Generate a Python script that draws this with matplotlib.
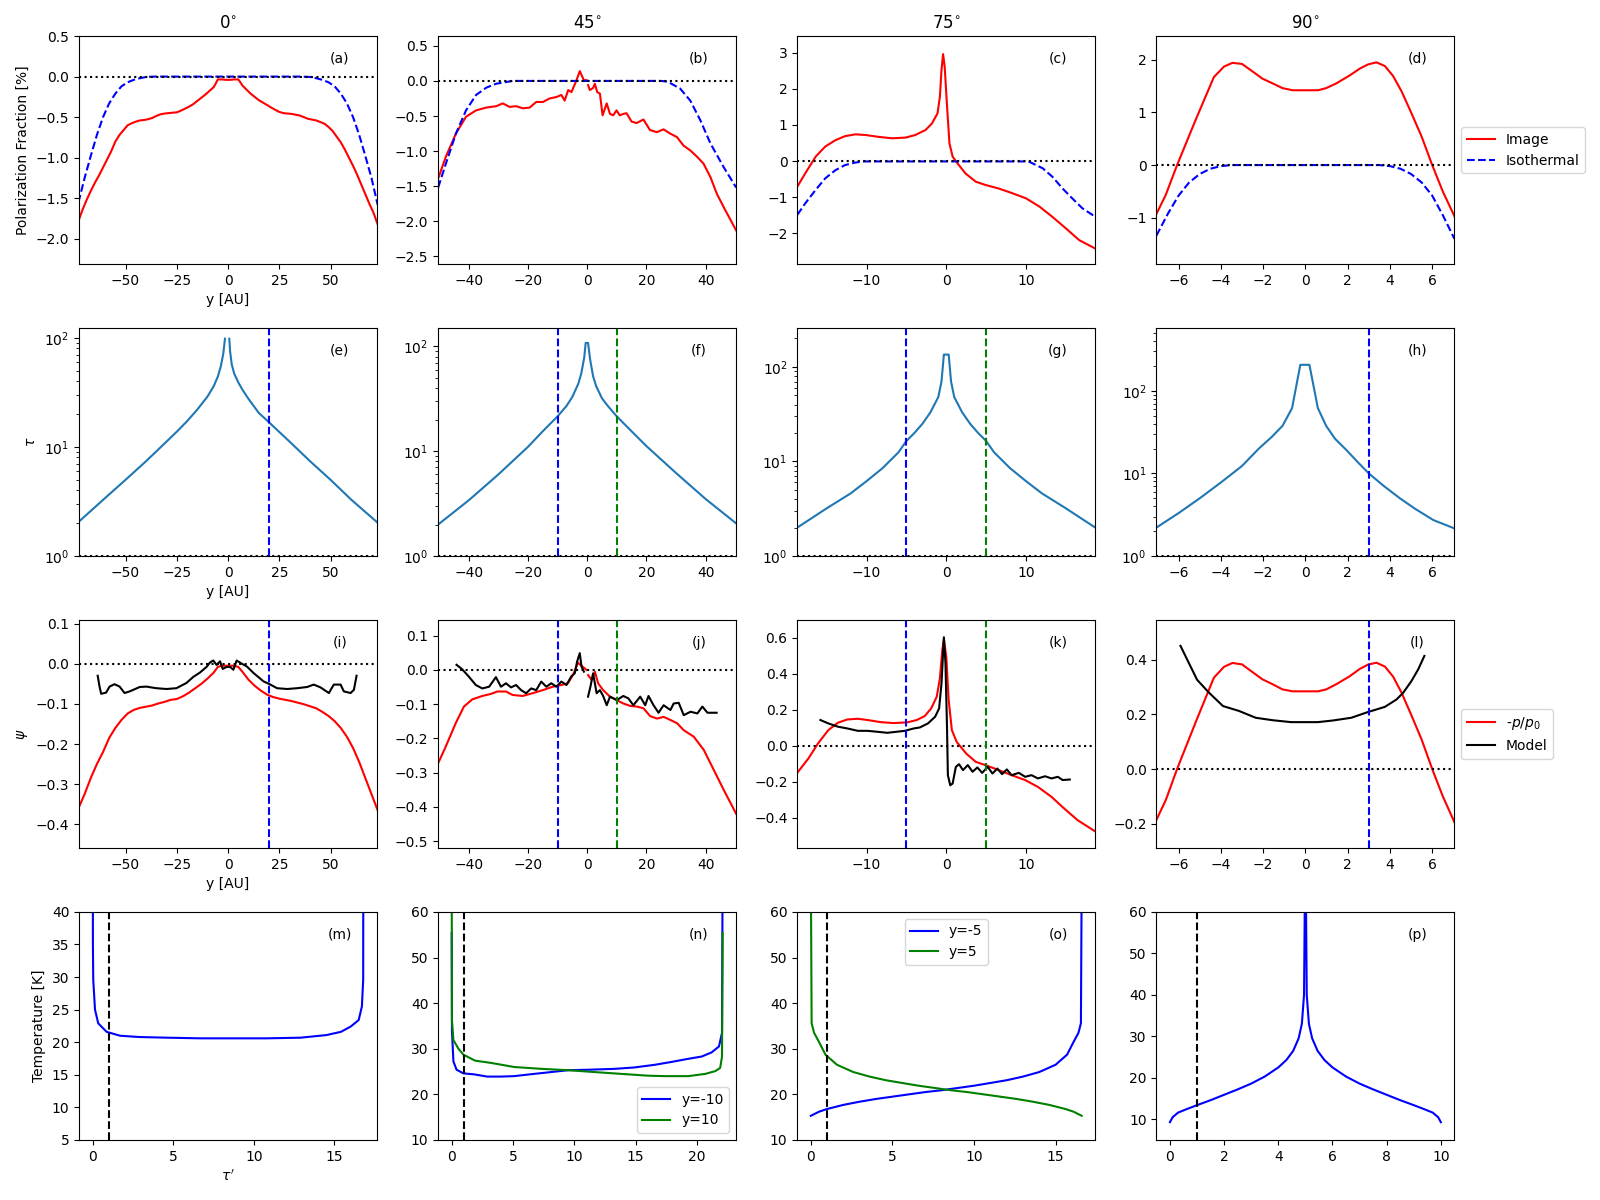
import numpy as np
import matplotlib
matplotlib.use('Agg')
import matplotlib.pyplot as plt
from matplotlib.ticker import MultipleLocator

nan = np.nan

titles = ['0$^{\\circ}$', '45$^{\\circ}$', '75$^{\\circ}$', '90$^{\\circ}$']
letters = 'abcdefghijklmnop'

# ---- row 1: polarization fraction ----
a_img_x = [-73, -71, -69, -67, -65, -63, -61, -59, -57, -55, -53, -51, -49, -47, -45, -43, -41, -39, -37,
           -35, -33, -31, -29, -27, -25, -23, -21, -19, -17, -15, -13, -11, -9, -7, -6, -5, -3, -1, 1, 3,
           5, 6, 7, 9, 11, 13, 15, 17, 19, 21, 23, 25, 27, 29, 31, 33, 35, 37, 39, 41, 43, 45, 47, 49,
           51, 53, 55, 57, 59, 61, 63, 65, 67, 69, 71, 73]
a_img_y = [-1.78, -1.64, -1.52, -1.41, -1.31, -1.22, -1.12, -1.02, -0.92, -0.80, -0.72, -0.66, -0.60, -0.575,
           -0.555, -0.54, -0.535, -0.525, -0.51, -0.485, -0.465, -0.455, -0.45, -0.445, -0.44, -0.42, -0.395,
           -0.37, -0.34, -0.30, -0.26, -0.22, -0.175, -0.13, -0.085, -0.035, -0.035, -0.04, -0.04, -0.035,
           -0.035, -0.07, -0.11, -0.16, -0.21, -0.25, -0.29, -0.32, -0.35, -0.38, -0.41, -0.435, -0.45, -0.455,
           -0.46, -0.47, -0.48, -0.50, -0.52, -0.53, -0.54, -0.56, -0.58, -0.62, -0.67, -0.74, -0.81, -0.90,
           -1.00, -1.10, -1.21, -1.33, -1.45, -1.57, -1.68, -1.82]
a_iso_x = [-73, -70, -67, -64, -61, -58, -55, -52, -49, -46, -43, -40, -36,
           36, 40, 43, 46, 49, 52, 55, 58, 61, 64, 67, 70, 73]
a_iso_y = [-1.55, -1.25, -0.98, -0.72, -0.50, -0.33, -0.21, -0.12, -0.07, -0.04, -0.02, -0.005, 0.0,
           0.0, -0.005, -0.02, -0.04, -0.07, -0.12, -0.21, -0.33, -0.50, -0.72, -0.98, -1.25, -1.58]

b_img_x = [-50.3, -47.7, -44.3, -40.9, -37.5, -34.1, -30.7, -28.5, -26.2, -24, -21.7, -19.4, -17.2, -14.9,
           -12.7, -10.4, -8.7, -7.6, -6.4, -5.3, -3.6, -2.5, -1.1, -0.2, nan, 0.3, 0.9, 2.0, 2.6, 3.4, 4.3,
           5.2, 6.6, 7.7, 8.8, 9.9, 11, 12.2, 13.3, 15, 16.7, 19, 21.2, 23.5, 25.8, 28, 30.3, 32.5, 34.8,
           37.1, 39.3, 41.6, 43.8, 46.1, 50.3]
b_img_y = [-1.39, -1.08, -0.75, -0.51, -0.42, -0.38, -0.36, -0.32, -0.37, -0.36, -0.39, -0.38, -0.30, -0.30,
           -0.25, -0.23, -0.20, -0.28, -0.13, -0.16, 0.01, 0.14, 0.01, 0.01, nan, -0.06, -0.13, -0.10, -0.04,
           -0.16, -0.18, -0.49, -0.32, -0.47, -0.49, -0.42, -0.49, -0.47, -0.46, -0.58, -0.60, -0.55, -0.70,
           -0.73, -0.69, -0.75, -0.80, -0.92, -0.99, -1.08, -1.18, -1.37, -1.61, -1.80, -2.13]
b_iso_x = [-50.3, -47.7, -44.3, -40.9, -37.5, -34, -30.7, -27.3, -25, 25, 27, 28, 31.4, 34.8, 38.2, 41.6,
           46.1, 50.3]
b_iso_y = [-1.52, -1.18, -0.75, -0.42, -0.20, -0.095, -0.04, -0.015, 0.0, 0.0, -0.01, -0.03, -0.11, -0.28,
           -0.56, -0.89, -1.23, -1.52]

c_img_x = [-18.7, -17.7, -16.4, -15.2, -13.9, -12.7, -11.4, -10.1, -8.5, -6.8, -5.1, -3.9, -2.6, -1.8, -1.1,
           -0.8, -0.6, -0.4, -0.2, 0.1, 0.4, 0.8, 1.4, 2.4, 3.7, 4.9, 6.6, 8.3, 10, 11.7, 13.3, 15, 16.7, 18.7]
c_img_y = [-0.71, -0.34, 0.12, 0.40, 0.58, 0.69, 0.74, 0.72, 0.67, 0.63, 0.65, 0.72, 0.86, 1.04, 1.32, 1.78,
           2.52, 2.96, 2.61, 1.50, 0.49, 0.12, -0.06, -0.34, -0.57, -0.66, -0.76, -0.89, -1.03, -1.26, -1.54,
           -1.86, -2.19, -2.42]
c_iso_x = [-18.7, -17.7, -16.4, -15.2, -13.9, -12.7, -11.4, -10.3, 10.3, 10.8, 12.1, 13.3, 14.6, 15.8, 17.1,
           18.7]
c_iso_y = [-1.49, -1.17, -0.80, -0.48, -0.25, -0.11, -0.04, -0.01, -0.01, -0.06, -0.20, -0.43, -0.76, -1.03,
           -1.31, -1.54]

d_img_x = [-7.05, -6.6, -6.07, -5.2, -4.33, -3.85, -3.45, -3.0, -2.58, -2.03, -1.55, -1.08, -0.6, 0.6, 0.98,
           1.46, 2.09, 2.57, 2.96, 3.36, 3.76, 4.15, 4.55, 5.0, 5.5, 6.0, 6.5, 7.05]
d_img_y = [-0.93, -0.56, 0.0, 0.85, 1.67, 1.87, 1.94, 1.92, 1.80, 1.64, 1.55, 1.46, 1.42, 1.42, 1.46, 1.55,
           1.70, 1.83, 1.91, 1.95, 1.88, 1.69, 1.40, 1.00, 0.54, 0.0, -0.5, -0.97]
d_iso_x = [-7.05, -6.5, -6, -5.5, -5, -4.5, -4, -3.5, 3.5, 4, 4.5, 5, 5.5, 6, 6.5, 7.05]
d_iso_y = [-1.34, -0.92, -0.58, -0.33, -0.17, -0.07, -0.02, 0.0, 0.0, -0.02, -0.07, -0.17, -0.33, -0.58,
           -0.95, -1.40]

# ---- row 2: optical depth ----
e_x = [-73, -60, -50, -40, -30, -25, -20, -15, -10, -7, -5, -3.5, -2.3, -1.5, nan, 0.6, 1.0, 1.8, 3, 5, 7,
       10, 15, 20, 25, 30, 40, 50, 60, 73]
e_y = [2.05, 3.4, 5.0, 7.4, 11.2, 13.8, 17.2, 22, 29, 36, 44, 55, 72, 98, nan, 98, 75, 57, 47, 39, 33.5,
       27.5, 20.5, 16.8, 13.7, 11.2, 7.4, 5.0, 3.3, 2.02]
f_x = [-50.3, -40, -30, -20, -15, -10, -7, -5, -3, -2, -1, -0.5, 0.3, 1, 2, 3, 5, 7, 10, 15, 20, 30, 40, 50.3]
f_y = [2.0, 3.4, 6.0, 11.0, 15.5, 21.5, 27, 33, 44, 55, 78, 108, 108, 75, 52, 42, 32, 27, 21.5, 15.5, 11.2,
       6.2, 3.5, 2.05]
g_x = [-18.7, -15, -12, -10, -8, -6, -5, -4, -3, -2, -1, -0.6, -0.3, 0.3, 0.6, 1, 2, 3, 4, 5, 6, 8, 10, 12,
       15, 18.7]
g_y = [2.0, 3.2, 4.6, 6.2, 8.5, 12.5, 16.5, 20, 25, 33, 48, 70, 135, 135, 70, 48, 33, 25, 20, 16.5, 12.5,
       8.5, 6.2, 4.6, 3.2, 2.0]
h_x = [-7.05, -6, -5, -4, -3.45, -3, -2.2, -1.6, -1.08, -0.63, -0.24, 0.19, 0.59, 0.98, 1.4, 1.93, 2.5, 3.0,
       3.7, 4.47, 5.2, 6.05, 7.05]
h_y = [2.21, 3.31, 5.0, 7.76, 10, 12.3, 20, 27.5, 37.7, 61.7, 206, 206, 61.7, 37.7, 26.3, 19.3, 13.5, 10,
       7.08, 5.0, 3.72, 2.73, 2.16]

# ---- row 3: psi ----
i_p_x = [-73, -70, -67, -64, -61, -58, -55, -52, -49, -46, -43, -40, -37, -34, -31, -28, -25, -22, -19, -16,
         -13, -10, -7, -5, -3, 0, 3, 5, 7, 10, 13, 16, 19, 22, 25, 28, 31, 34, 37, 40, 43, 46, 49, 52, 55,
         58, 61, 64, 67, 70, 73]
i_p_y = [-0.36, -0.325, -0.285, -0.25, -0.22, -0.185, -0.16, -0.14, -0.124, -0.115, -0.11, -0.107, -0.104,
         -0.099, -0.095, -0.09, -0.088, -0.081, -0.072, -0.061, -0.05, -0.037, -0.022, -0.008, -0.005,
         -0.005, -0.005, -0.008, -0.02, -0.04, -0.055, -0.067, -0.077, -0.083, -0.087, -0.09, -0.093,
         -0.097, -0.101, -0.106, -0.111, -0.12, -0.13, -0.143, -0.16, -0.182, -0.21, -0.245, -0.285,
         -0.325, -0.365]
i_m_x = [-63.6, -62.7, -61.9, -59.5, -57.8, -55.4, -52.9, -50.5, -48, -43.1, -39.9, -35, -30, -25.2, -20.3,
         -17, -13.7, -10.5, -8.8, -7.2, -5.6, -3.9, -2.6, -0.7, 1, 2.6, 4.2, 6.7, 9.2, 12.4, 17.3, 20.3,
         23.9, 28.8, 33.7, 38.6, 41.8, 45.1, 49.2, 51.6, 54.9, 56.5, 59.8, 61.4, 62.7]
i_m_y = [-0.03, -0.057, -0.075, -0.072, -0.057, -0.051, -0.057, -0.073, -0.069, -0.058, -0.057, -0.061,
         -0.063, -0.061, -0.048, -0.033, -0.022, -0.008, 0.003, 0.008, -0.003, 0.006, -0.013, -0.008,
         -0.008, -0.015, 0.008, 0.0, -0.007, -0.023, -0.044, -0.051, -0.061, -0.063, -0.061, -0.058,
         -0.052, -0.059, -0.073, -0.052, -0.052, -0.069, -0.073, -0.065, -0.03]

j_p_x = [-50.6, -47.8, -44.4, -41.6, -38.8, -35.4, -32.5, -30.3, -27.4, -25.2, -21.8, -18.4, -15, -11.6,
         -8.7, -6.5, -4.8, -3.1, -1.9, -0.2, nan, 0.3, 1.5, 2.6, 3.7, 5.4, 7.7, 10, 12.2, 14.5, 16.8, 19,
         21.3, 23.6, 25.8, 28.1, 30.4, 32.6, 36, 39.4, 42.8, 46.2, 50.3]
j_p_y = [-0.278, -0.225, -0.156, -0.107, -0.086, -0.076, -0.07, -0.063, -0.063, -0.073, -0.076, -0.068,
         -0.059, -0.049, -0.044, -0.039, -0.015, 0.021, 0.012, 0.0, nan, -0.015, -0.029, -0.005, -0.039,
         -0.059, -0.078, -0.088, -0.098, -0.105, -0.107, -0.112, -0.135, -0.142, -0.137, -0.146, -0.156,
         -0.176, -0.195, -0.234, -0.293, -0.352, -0.42]
j_m_x = [-44.1, -42.2, -39.9, -37.6, -35.4, -33.1, -30.8, -29.1, -27.4, -25.7, -24, -22.3, -20.6, -18.9,
         -17.2, -15.5, -13.8, -12.1, -10.4, -8.7, -7, -5.3, -4.2, -3.4, -2.5, -1.9, -1.1, nan, 0.3, 1.1,
         2.0, 2.6, 3.2, 4.3, 5.4, 6.6, 7.7, 10, 12.2, 13.9, 15.6, 17.9, 19.6, 20.7, 22.4, 24.1, 25.8,
         28.1, 29.2, 30.9, 32.6, 34.9, 37.2, 38.9, 40.6, 43.7]
j_m_y = [0.015, 0.002, -0.02, -0.044, -0.054, -0.049, -0.021, -0.049, -0.039, -0.051, -0.044, -0.059,
         -0.068, -0.054, -0.059, -0.034, -0.049, -0.039, -0.049, -0.034, -0.044, -0.018, -0.01, 0.024,
         0.049, 0.01, -0.005, nan, -0.078, -0.049, -0.01, -0.039, -0.068, -0.059, -0.076, -0.103, -0.078,
         -0.088, -0.076, -0.083, -0.103, -0.078, -0.103, -0.076, -0.103, -0.125, -0.103, -0.117, -0.098,
         -0.096, -0.132, -0.122, -0.127, -0.107, -0.125, -0.125]

k_p_x = [-18.7, -17.3, -16.1, -14.8, -13.6, -12.4, -11.1, -9.9, -8.2, -6.6, -4.9, -3.7, -2.7, -1.9, -1.2,
         -0.8, -0.5, -0.3, 0.0, 0.3, 0.7, 1.3, 2.5, 3.7, 4.9, 6.6, 8.2, 9.9, 11.5, 13.2, 14.8, 16.5, 18.7]
k_p_y = [-0.15, -0.07, 0.013, 0.087, 0.128, 0.146, 0.15, 0.143, 0.131, 0.126, 0.13, 0.143, 0.165, 0.207,
         0.272, 0.374, 0.531, 0.59, 0.494, 0.254, 0.087, 0.022, -0.043, -0.089, -0.107, -0.135, -0.163,
         -0.19, -0.228, -0.283, -0.348, -0.413, -0.475]
k_m_x = [-15.8, -14.8, -13.6, -12.4, -11.1, -9.9, -8.7, -7.4, -6.2, -5.2, -4.1, -3.3, -2.3, -1.4, -0.9, -0.6,
         -0.3, -0.1, 0.1, 0.2, 0.5, 0.8, 1.2, 1.6, 2.1, 2.7, 3.3, 3.9, 4.5, 5.2, 5.8, 6.4, 7.0, 7.6, 8.2,
         9.1, 9.9, 10.7, 11.5, 12.4, 13.2, 14.0, 14.6, 15.5]
k_m_y = [0.143, 0.124, 0.106, 0.096, 0.083, 0.083, 0.078, 0.072, 0.078, 0.083, 0.096, 0.102, 0.124, 0.161,
         0.207, 0.346, 0.602, 0.457, 0.087, -0.163, -0.219, -0.209, -0.117, -0.102, -0.135, -0.107, -0.144,
         -0.12, -0.15, -0.117, -0.154, -0.126, -0.157, -0.131, -0.163, -0.15, -0.172, -0.163, -0.181,
         -0.169, -0.181, -0.172, -0.19, -0.187]

l_p_x = d_img_x
l_p_y = [-0.187, -0.113, 0.0, 0.17, 0.335, 0.375, 0.389, 0.384, 0.36, 0.329, 0.311, 0.292, 0.285, 0.285,
         0.292, 0.311, 0.34, 0.367, 0.383, 0.39, 0.376, 0.339, 0.28, 0.2, 0.108, 0.0, -0.1, -0.195]
l_m_x = [-5.91, -5.52, -5.12, -4.56, -3.9, -3.14, -2.35, -1.55, -0.68, 0.59, 1.3, 2.17, 2.96, 3.76, 4.31,
         4.63, 5.02, 5.34, 5.63]
l_m_y = [0.452, 0.39, 0.327, 0.28, 0.231, 0.213, 0.188, 0.179, 0.172, 0.172, 0.178, 0.188, 0.209, 0.228,
         0.255, 0.28, 0.323, 0.366, 0.415]

# ---- row 4: temperature along the line of sight ----
m_x = [0, 0.02, 0.04, 0.15, 0.35, 0.87, 1.7, 2.9, 4.6, 6.7, 8.7, 10.8, 12.9, 14.5, 15.4, 16.0, 16.5, 16.7,
       16.78, 16.8]
m_y = [80, 35, 29.6, 25, 22.9, 21.6, 21.0, 20.8, 20.7, 20.6, 20.6, 20.6, 20.7, 21.1, 21.6, 22.4, 23.4, 25.5,
       29.6, 80]
n_neg_x = [0, 0.02, 0.14, 0.4, 0.96, 1.8, 2.9, 4, 5.1, 6.4, 7.8, 9.5, 11.1, 13.3, 14.9, 16.6, 17.9, 19.3,
           20.4, 21.2, 21.8, 22.05, 22.1]
n_neg_y = [55.4, 34, 27.2, 25.4, 24.6, 24.4, 23.9, 23.9, 24.0, 24.4, 24.8, 25.3, 25.4, 25.6, 25.9, 26.5,
           27.1, 27.8, 28.3, 29.2, 30.5, 33.5, 70]
n_pos_x = [0, 0.02, 0.14, 0.55, 0.96, 1.9, 3.2, 5.1, 7.3, 9.5, 11.6, 13.8, 16, 17.4, 19.3, 20.7, 21.5, 21.9,
           22.05, 22.1]
n_pos_y = [70, 36.3, 31.9, 30, 28.7, 27.4, 26.9, 26.0, 25.6, 25.3, 24.9, 24.5, 24.1, 24.0, 24.0, 24.5, 25.1,
           25.8, 28.3, 55.4]
o_neg_x = [0, 0.5, 1, 2, 3, 4, 5, 6, 7, 8, 9, 10, 11, 12, 13, 14, 15, 15.7, 16.1, 16.4, 16.55, 16.6]
o_neg_y = [15.3, 16.2, 16.8, 17.7, 18.4, 19.0, 19.5, 20.0, 20.5, 20.9, 21.4, 21.9, 22.5, 23.1, 23.9, 24.9,
           26.5, 28.7, 31.5, 33.5, 35.6, 70]
o_pos_x = [0, 0.05, 0.2, 0.5, 0.9, 1.6, 2.6, 3.6, 4.6, 5.6, 6.6, 7.6, 8.6, 9.6, 10.6, 11.6, 12.6, 13.6, 14.6,
           15.6, 16.1, 16.6]
o_pos_y = [70, 35.6, 33.5, 31.5, 28.7, 26.5, 24.9, 23.9, 23.1, 22.5, 21.9, 21.4, 20.9, 20.5, 20.0, 19.5,
           19.0, 18.4, 17.7, 16.8, 16.2, 15.3]
p_x = [0, 0.1, 0.3, 0.6, 1, 1.5, 2, 2.5, 3, 3.5, 4, 4.3, 4.55, 4.75, 4.87, 4.95, 5.0, 5.05, 5.13, 5.25,
       5.45, 5.7, 6, 6.5, 7, 7.5, 8, 8.5, 9, 9.4, 9.7, 9.9, 10]
p_y = [9.3, 10.5, 11.6, 12.4, 13.4, 14.6, 15.9, 17.2, 18.6, 20.3, 22.5, 24.3, 26.5, 29.5, 33, 40, 80, 40, 33,
       29.5, 26.5, 24.3, 22.5, 20.3, 18.6, 17.2, 15.9, 14.6, 13.4, 12.4, 11.6, 10.5, 9.3]

# axis limits and marker lines per column
xlims = [(-72.7, 72.7), (-50.3, 50.3), (-18.7, 18.7), (-7.05, 7.05)]
row1_ylims = [(-2.31, 0.5), (-2.61, 0.64), (-2.85, 3.46), (-1.88, 2.45)]
row2_ytop = [123, 150, 258, 575]
row3_ylims = [(-0.459, 0.109), (-0.52, 0.146), (-0.567, 0.698), (-0.29, 0.547)]
row4_ylims = [(5, 40), (10, 60), (10, 60), (5, 60)]
vlines_blue = [20, -10, -5, 3]
vlines_green = [None, 10, 5, None]
tau_cut = 1


def main():
    fig, axes = plt.subplots(4, 4, figsize=(16, 12))
    fig.subplots_adjust(left=0.0494, right=0.909, top=0.97, bottom=0.05, wspace=0.205, hspace=0.28)

    row1 = [(a_img_x, a_img_y, a_iso_x, a_iso_y), (b_img_x, b_img_y, b_iso_x, b_iso_y),
            (c_img_x, c_img_y, c_iso_x, c_iso_y), (d_img_x, d_img_y, d_iso_x, d_iso_y)]
    for c, (ix, iy, sx, sy) in enumerate(row1):
        ax = axes[0, c]
        ax.plot(ix, iy, color='r', label='Image')
        ax.plot(sx, sy, color='b', ls='--', label='Isothermal')
        ax.axhline(0, color='k', ls=':')
        ax.set_xlim(xlims[c])
        ax.set_ylim(row1_ylims[c])
        ax.set_title(titles[c], fontsize=12)
    axes[0, 3].legend(loc='center left', bbox_to_anchor=(1, 0.5))

    row2 = [(e_x, e_y), (f_x, f_y), (g_x, g_y), (h_x, h_y)]
    for c, (tx, ty) in enumerate(row2):
        ax = axes[1, c]
        ax.plot(tx, ty, color='C0')
        ax.set_yscale('log')
        ax.axhline(1, color='k', ls=':')
        ax.axvline(vlines_blue[c], color='b', ls='--')
        if vlines_green[c] is not None:
            ax.axvline(vlines_green[c], color='g', ls='--')
        ax.set_xlim(xlims[c])
        ax.set_ylim(1, row2_ytop[c])

    row3 = [(i_p_x, i_p_y, i_m_x, i_m_y), (j_p_x, j_p_y, j_m_x, j_m_y),
            (k_p_x, k_p_y, k_m_x, k_m_y), (l_p_x, l_p_y, l_m_x, l_m_y)]
    for c, (px, py, mx, my) in enumerate(row3):
        ax = axes[2, c]
        ax.plot(px, py, color='r', label='-$p/p_0$')
        ax.plot(mx, my, color='k', label='Model')
        ax.axhline(0, color='k', ls=':')
        ax.axvline(vlines_blue[c], color='b', ls='--')
        if vlines_green[c] is not None:
            ax.axvline(vlines_green[c], color='g', ls='--')
        ax.set_xlim(xlims[c])
        ax.set_ylim(row3_ylims[c])
    axes[2, 3].legend(loc='center left', bbox_to_anchor=(1, 0.5))

    for r in range(3):
        axes[r, 3].xaxis.set_major_locator(MultipleLocator(2))

    ax = axes[3, 0]
    ax.plot(m_x, m_y, color='b')
    ax = axes[3, 1]
    ax.plot(n_neg_x, n_neg_y, color='b', label='y=-10')
    ax.plot(n_pos_x, n_pos_y, color='g', label='y=10')
    ax.legend(loc='lower right')
    ax = axes[3, 2]
    ax.plot(o_neg_x, o_neg_y, color='b', label='y=-5')
    ax.plot(o_pos_x, o_pos_y, color='g', label='y=5')
    ax.legend(loc='upper center')
    ax = axes[3, 3]
    ax.plot(p_x, p_y, color='b')
    for c in range(4):
        axes[3, c].axvline(tau_cut, color='k', ls='--')
        axes[3, c].set_ylim(row4_ylims[c])

    for r in range(3):
        axes[r, 0].set_xlabel('y [AU]')
    axes[3, 0].set_xlabel("$\\tau'$")
    axes[0, 0].set_ylabel('Polarization Fraction [%]')
    axes[1, 0].set_ylabel('$\\tau$')
    axes[2, 0].set_ylabel('$\\psi$')
    axes[3, 0].set_ylabel('Temperature [K]')

    for n, ax in enumerate(axes.flat):
        ax.text(0.875, 0.9, '(%s)' % letters[n], transform=ax.transAxes, ha='center', va='center')

    fig.savefig('out.png', dpi=100)


if __name__ == '__main__':
    main()
